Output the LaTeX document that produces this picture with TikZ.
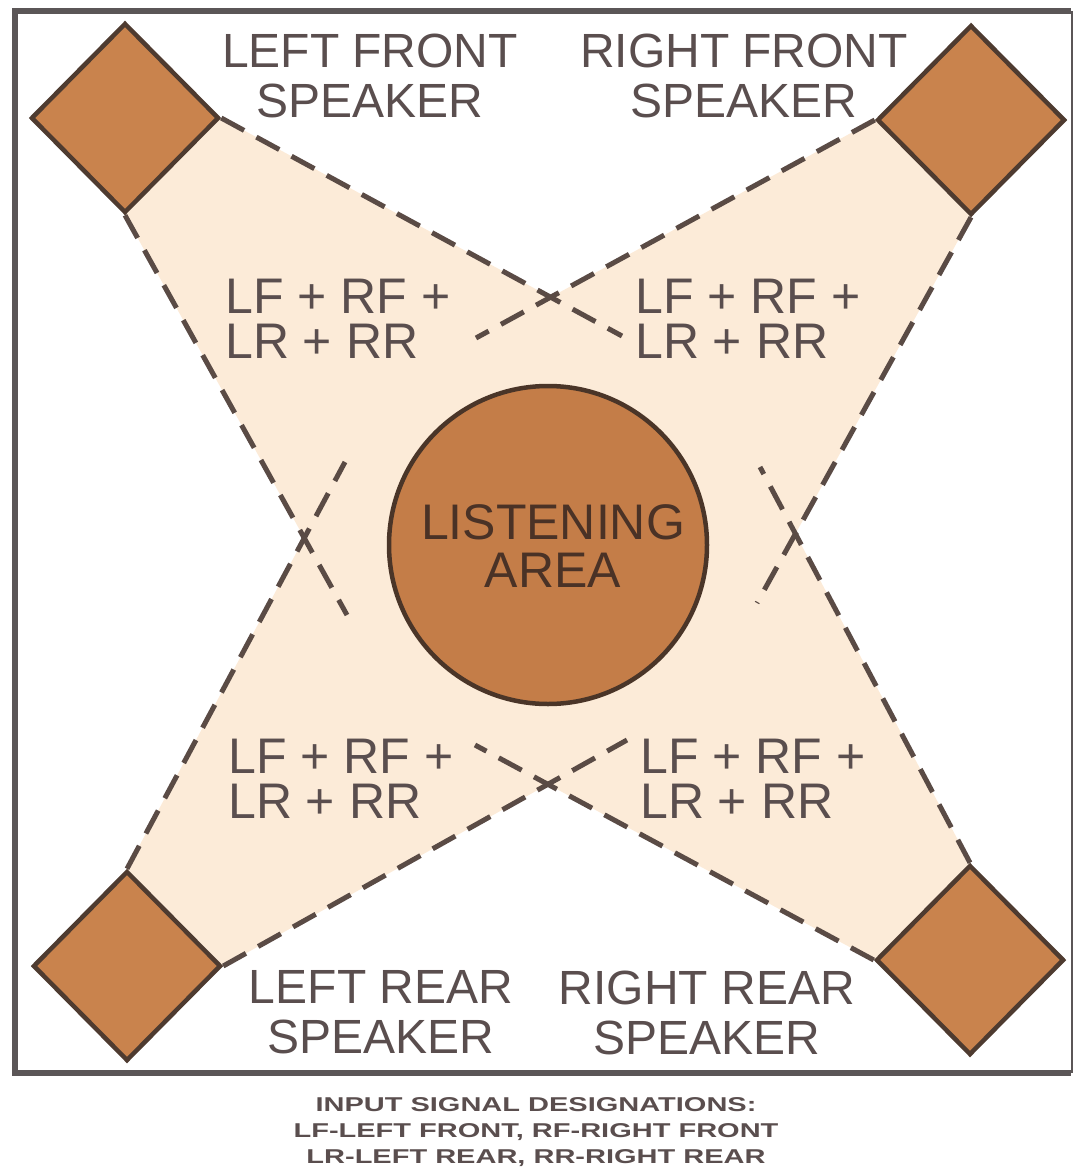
\documentclass[tikz,border=0pt]{standalone}
\usepackage{fontspec}
\usepackage{graphicx}
\setmainfont{Liberation Sans}
\usetikzlibrary{shapes.geometric,backgrounds}
\definecolor{framecol}{HTML}{5B5657}
\definecolor{spkfill}{HTML}{C9834D}
\definecolor{spkline}{HTML}{4E3B30}
\definecolor{areafill}{HTML}{C47D48}
\definecolor{arealine}{HTML}{4A3528}
\definecolor{beige}{HTML}{FCEBD8}
\definecolor{dashcol}{HTML}{5A4B45}
\definecolor{txt}{HTML}{5A4E4E}
\definecolor{areatxt}{HTML}{4A3226}
\newcommand{\wideline}[1]{\scalebox{1.45}[1]{#1}}
\begin{document}
\begin{tikzpicture}[x=1pt,y=-1pt,
  spk/.style={diamond, aspect=1, draw=spkline, fill=spkfill, line width=4.5pt,
    minimum width=188pt, minimum height=190pt, inner sep=0pt},
  beam/.style={draw=dashcol, line width=5pt, dash pattern=on 26pt off 14pt},
  lbl/.style={text=txt, inner sep=0pt, anchor=north, align=center, font=\fontsize{48}{50}\selectfont},
  sig/.style={text=txt, inner sep=0pt, anchor=north west, align=left, font=\fontsize{50}{45}\selectfont},
  areatext/.style={text=areatxt, inner sep=0pt, anchor=north, align=center, font=\fontsize{50}{48}\selectfont},
  captext/.style={text=txt, inner sep=0pt, anchor=north, align=center, font=\fontsize{20}{26}\selectfont\bfseries},
  framestyle/.style={draw=framecol, line width=6pt}]
\useasboundingbox (0,0) rectangle (1073,1167);
% frame
\draw[framestyle] (1071,11) -- (15,11) -- (15,1073) -- (1071,1073);
\draw[draw=framecol, line width=2pt] (1072,11) -- (1072,1073);
% speakers
\node[spk] (tl) at (125,118) {};
\node[spk] (tr) at (971,120) {};
\node[spk] (bl) at (127,966) {};
\node[spk] (br) at (970,960) {};
% listening area
\node[circle, draw=arealine, fill=areafill, line width=4.5pt, minimum size=318pt, inner sep=0pt] (area) at (548,545) {};
% beam end points
\coordinate (eTLR) at (622,336);
\coordinate (eTRL) at (476,338);
\coordinate (eTLB) at (347,615);
\coordinate (eBLT) at (345,462);
\coordinate (eTRB) at (757,603);
\coordinate (eBRT) at (760,467);
\coordinate (eBLR) at (627,740);
\coordinate (eBRL) at (475,745);
% crossings
\coordinate (xt) at (intersection of tl.east--eTLR and tr.west--eTRL);
\coordinate (xl) at (intersection of tl.south--eTLB and bl.north--eBLT);
\coordinate (xr) at (intersection of tr.south--eTRB and br.north--eBRT);
\coordinate (xb) at (intersection of bl.east--eBLR and br.west--eBRL);
\begin{pgfonlayer}{background}
\fill[beige] (tl.east) -- (xt) -- (tr.west) -- (tr.south) -- (xr) -- (br.north)
  -- (br.west) -- (xb) -- (bl.east) -- (bl.north) -- (xl) -- (tl.south) -- cycle;
\end{pgfonlayer}
% beams
\draw[beam] (tl.east) -- (eTLR);
\draw[beam] (tr.west) -- (eTRL);
\draw[beam] (tl.south) -- (eTLB);
\draw[beam] (bl.north) -- (eBLT);
\draw[beam] (tr.south) -- (eTRB);
\draw[beam] (br.north) -- (eBRT);
\draw[beam] (bl.east) -- (eBLR);
\draw[beam] (br.west) -- (eBRL);
% speaker labels
\node[lbl] (lflabel) at (370,33.6) {LEFT FRONT\\SPEAKER};
\node[lbl] (rflabel) at (744,33.6) {RIGHT FRONT\\SPEAKER};
\node[lbl] (lrlabel) at (381,970.6) {LEFT REAR\\SPEAKER};
\node[lbl] (rrlabel) at (707,970.6) {RIGHT REAR\\SPEAKER};
% signal labels
\node[sig] (s1) at (225,279.2) {LF + RF +\\LR + RR};
\node[sig] (s2) at (635,279.2) {LF + RF +\\LR + RR};
\node[sig] (s3) at (228,739.2) {LF + RF +\\LR + RR};
\node[sig] (s4) at (640,739.2) {LF + RF +\\LR + RR};
% area text
\node[areatext] (areatitle) at (553,504.2) {LISTENING\\AREA};
% caption
\node[captext] (caption) at (536,1097.7)
  {\wideline{INPUT SIGNAL DESIGNATIONS:}\\\wideline{LF-LEFT FRONT, RF-RIGHT FRONT}\\\wideline{LR-LEFT REAR, RR-RIGHT REAR}};
\end{tikzpicture}
\end{document}
